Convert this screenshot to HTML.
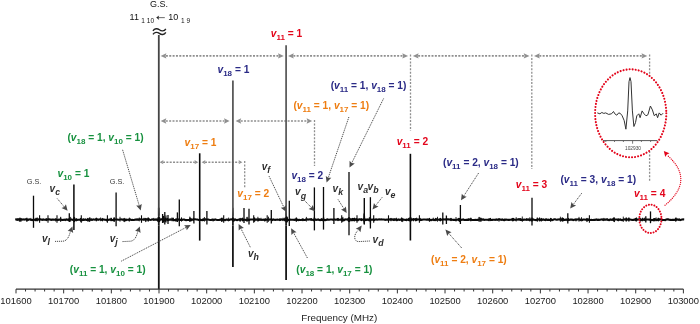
<!DOCTYPE html>
<html><head><meta charset="utf-8"><style>html,body{margin:0;padding:0;background:#fff;width:700px;height:324px;overflow:hidden}svg{display:block;will-change:transform}</style></head>
<body><svg width="700" height="324" viewBox="0 0 700 324"><line x1="165.9" y1="55.9" x2="278.5" y2="55.9" stroke="#8f8f8f" stroke-width="1.6" stroke-dasharray="2 1.35"/>
<polygon points="160.60,55.90 166.40,53.30 165.50,55.90 166.40,58.50" fill="#8f8f8f"/>
<polygon points="283.80,55.90 278.00,58.50 278.90,55.90 278.00,53.30" fill="#8f8f8f"/>
<line x1="293.3" y1="55.9" x2="402.8" y2="55.9" stroke="#8f8f8f" stroke-width="1.6" stroke-dasharray="2 1.35"/>
<polygon points="288.00,55.90 293.80,53.30 292.90,55.90 293.80,58.50" fill="#8f8f8f"/>
<polygon points="408.10,55.90 402.30,58.50 403.20,55.90 402.30,53.30" fill="#8f8f8f"/>
<line x1="418.1" y1="55.9" x2="524.2" y2="55.9" stroke="#8f8f8f" stroke-width="1.6" stroke-dasharray="2 1.35"/>
<polygon points="412.80,55.90 418.60,53.30 417.70,55.90 418.60,58.50" fill="#8f8f8f"/>
<polygon points="529.50,55.90 523.70,58.50 524.60,55.90 523.70,53.30" fill="#8f8f8f"/>
<line x1="539.3" y1="55.9" x2="642.0" y2="55.9" stroke="#8f8f8f" stroke-width="1.6" stroke-dasharray="2 1.35"/>
<polygon points="534.00,55.90 539.80,53.30 538.90,55.90 539.80,58.50" fill="#8f8f8f"/>
<polygon points="647.30,55.90 641.50,58.50 642.40,55.90 641.50,53.30" fill="#8f8f8f"/>
<line x1="410.5" y1="54.5" x2="410.5" y2="131" stroke="#8f8f8f" stroke-width="1.3" stroke-dasharray="2 1.45"/>
<line x1="531.8" y1="54.5" x2="531.8" y2="169" stroke="#8f8f8f" stroke-width="1.3" stroke-dasharray="2 1.45"/>
<line x1="649.6" y1="54.5" x2="649.6" y2="181" stroke="#8f8f8f" stroke-width="1.3" stroke-dasharray="2 1.45"/>
<line x1="165.79999999999998" y1="121" x2="224.5" y2="121" stroke="#8f8f8f" stroke-width="1.6" stroke-dasharray="2 1.35"/>
<polygon points="160.70,121.00 166.30,118.30 165.40,121.00 166.30,123.70" fill="#8f8f8f"/>
<polygon points="229.60,121.00 224.00,123.70 224.90,121.00 224.00,118.30" fill="#8f8f8f"/>
<line x1="240.7" y1="121" x2="307.09999999999997" y2="121" stroke="#8f8f8f" stroke-width="1.6" stroke-dasharray="2 1.35"/>
<polygon points="235.60,121.00 241.20,118.30 240.30,121.00 241.20,123.70" fill="#8f8f8f"/>
<polygon points="312.20,121.00 306.60,123.70 307.50,121.00 306.60,118.30" fill="#8f8f8f"/>
<line x1="314.5" y1="120" x2="314.5" y2="166" stroke="#8f8f8f" stroke-width="1.3" stroke-dasharray="2 1.45"/>
<line x1="163.0" y1="162.2" x2="194.9" y2="162.2" stroke="#8f8f8f" stroke-width="1.6" stroke-dasharray="2 1.35"/>
<polygon points="159.60,162.20 163.50,160.10 162.60,162.20 163.50,164.30" fill="#8f8f8f"/>
<polygon points="198.30,162.20 194.40,164.30 195.30,162.20 194.40,160.10" fill="#8f8f8f"/>
<line x1="205.0" y1="162.2" x2="239.0" y2="162.2" stroke="#8f8f8f" stroke-width="1.6" stroke-dasharray="2 1.35"/>
<polygon points="201.60,162.20 205.50,160.10 204.60,162.20 205.50,164.30" fill="#8f8f8f"/>
<polygon points="242.40,162.20 238.50,164.30 239.40,162.20 238.50,160.10" fill="#8f8f8f"/>
<line x1="244.7" y1="161" x2="244.7" y2="188" stroke="#8f8f8f" stroke-width="1.3" stroke-dasharray="2 1.45"/>
<polyline points="15.2,219.56 16.2,219.42 17.2,219.82 18.2,219.36 19.2,219.73 20.2,219.59 21.2,219.35 22.2,219.71 23.2,219.33 24.2,219.65 25.2,219.36 26.2,219.37 27.2,219.64 28.2,219.96 29.2,219.40 30.2,219.48 31.2,219.80 32.2,220.06 33.2,219.76 34.2,219.62 35.2,220.08 36.2,219.34 37.2,219.99 38.2,219.53 39.2,219.42 40.2,219.39 41.2,219.55 42.2,219.95 43.2,219.44 44.2,219.77 45.2,219.81 46.2,219.60 47.2,219.74 48.2,219.35 49.2,219.35 50.2,219.46 51.2,219.84 52.2,219.64 53.2,219.55 54.2,219.77 55.2,219.66 56.2,219.54 57.2,219.94 58.2,219.86 59.2,219.50 60.2,219.76 61.2,219.72 62.2,220.00 63.2,219.88 64.2,219.53 65.2,220.08 66.2,219.39 67.2,219.63 68.2,219.91 69.2,219.42 70.2,219.69 71.2,219.33 72.2,219.83 73.2,219.91 74.2,219.76 75.2,220.00 76.2,219.55 77.2,219.86 78.2,219.78 79.2,219.76 80.2,219.66 81.2,219.97 82.2,220.06 83.2,219.68 84.2,219.83 85.2,219.35 86.2,219.86 87.2,219.82 88.2,220.09 89.2,219.96 90.2,219.53 91.2,219.61 92.2,219.83 93.2,219.32 94.2,219.67 95.2,219.43 96.2,219.39 97.2,219.35 98.2,219.91 99.2,219.40 100.2,219.50 101.2,219.61 102.2,220.00 103.2,219.36 104.2,219.66 105.2,219.74 106.2,220.01 107.2,219.96 108.2,219.99 109.2,219.52 110.2,219.63 111.2,219.59 112.2,220.01 113.2,220.07 114.2,219.42 115.2,219.44 116.2,219.49 117.2,219.49 118.2,219.69 119.2,219.77 120.2,219.51 121.2,219.30 122.2,219.64 123.2,219.60 124.2,219.75 125.2,220.06 126.2,219.85 127.2,219.71 128.2,219.79 129.2,219.84 130.2,219.34 131.2,220.02 132.2,219.92 133.2,220.00 134.2,219.94 135.2,219.61 136.2,219.62 137.2,219.38 138.2,219.81 139.2,219.35 140.2,219.35 141.2,219.47 142.2,219.43 143.2,219.57 144.2,219.34 145.2,219.30 146.2,219.42 147.2,219.38 148.2,219.59 149.2,219.32 150.2,220.00 151.2,219.79 152.2,219.42 153.2,219.50 154.2,219.58 155.2,219.59 156.2,219.40 157.2,219.98 158.2,220.09 159.2,219.67 160.2,219.69 161.2,219.37 162.2,219.38 163.2,219.57 164.2,219.51 165.2,219.96 166.2,219.43 167.2,219.32 168.2,220.06 169.2,219.72 170.2,219.42 171.2,219.73 172.2,219.32 173.2,219.72 174.2,220.08 175.2,219.99 176.2,219.86 177.2,219.51 178.2,219.59 179.2,219.43 180.2,219.92 181.2,219.73 182.2,219.92 183.2,219.56 184.2,219.48 185.2,219.95 186.2,220.09 187.2,219.98 188.2,219.94 189.2,219.95 190.2,219.89 191.2,219.48 192.2,219.71 193.2,219.58 194.2,219.32 195.2,219.32 196.2,219.52 197.2,219.51 198.2,219.85 199.2,220.07 200.2,219.66 201.2,220.05 202.2,220.09 203.2,220.06 204.2,219.59 205.2,219.48 206.2,219.48 207.2,219.46 208.2,219.46 209.2,219.80 210.2,220.02 211.2,219.97 212.2,219.68 213.2,219.82 214.2,219.94 215.2,219.37 216.2,219.83 217.2,220.03 218.2,219.93 219.2,219.90 220.2,219.68 221.2,219.44 222.2,219.93 223.2,219.57 224.2,219.94 225.2,220.08 226.2,219.62 227.2,219.62 228.2,220.06 229.2,219.88 230.2,219.44 231.2,219.40 232.2,219.42 233.2,220.02 234.2,219.95 235.2,219.42 236.2,219.96 237.2,220.08 238.2,219.83 239.2,219.58 240.2,219.74 241.2,219.40 242.2,219.31 243.2,220.08 244.2,219.82 245.2,219.72 246.2,220.05 247.2,219.65 248.2,220.00 249.2,219.96 250.2,219.47 251.2,219.50 252.2,219.53 253.2,219.49 254.2,219.77 255.2,219.51 256.2,219.64 257.2,219.40 258.2,220.03 259.2,219.58 260.2,219.67 261.2,219.77 262.2,220.02 263.2,219.64 264.2,220.03 265.2,219.70 266.2,219.73 267.2,219.72 268.2,219.31 269.2,219.65 270.2,219.45 271.2,219.30 272.2,219.94 273.2,219.44 274.2,219.68 275.2,219.88 276.2,219.75 277.2,219.56 278.2,219.71 279.2,219.74 280.2,219.93 281.2,219.38 282.2,219.75 283.2,219.50 284.2,219.52 285.2,219.92 286.2,219.71 287.2,219.75 288.2,219.91 289.2,220.03 290.2,219.65 291.2,219.79 292.2,219.70 293.2,219.71 294.2,219.85 295.2,219.66 296.2,219.73 297.2,219.68 298.2,220.05 299.2,219.86 300.2,220.00 301.2,220.05 302.2,219.51 303.2,219.75 304.2,220.05 305.2,219.97 306.2,219.41 307.2,219.40 308.2,219.65 309.2,219.36 310.2,219.49 311.2,219.36 312.2,219.84 313.2,219.93 314.2,220.02 315.2,219.42 316.2,219.87 317.2,219.83 318.2,219.41 319.2,220.01 320.2,220.07 321.2,219.48 322.2,220.06 323.2,219.62 324.2,219.69 325.2,220.09 326.2,219.97 327.2,219.43 328.2,219.65 329.2,219.71 330.2,219.57 331.2,219.46 332.2,219.55 333.2,219.88 334.2,219.32 335.2,219.74 336.2,219.65 337.2,219.31 338.2,219.57 339.2,219.80 340.2,219.71 341.2,219.35 342.2,220.09 343.2,219.93 344.2,220.08 345.2,219.38 346.2,219.51 347.2,219.33 348.2,219.92 349.2,219.52 350.2,219.40 351.2,219.64 352.2,220.03 353.2,219.96 354.2,219.51 355.2,219.42 356.2,220.04 357.2,219.76 358.2,219.86 359.2,219.37 360.2,219.35 361.2,219.85 362.2,219.64 363.2,219.36 364.2,220.05 365.2,219.81 366.2,219.94 367.2,219.37 368.2,219.98 369.2,219.35 370.2,219.99 371.2,219.66 372.2,219.57 373.2,219.74 374.2,220.04 375.2,219.51 376.2,219.40 377.2,219.72 378.2,219.49 379.2,219.39 380.2,219.43 381.2,219.34 382.2,219.46 383.2,219.55 384.2,219.54 385.2,219.91 386.2,219.53 387.2,219.70 388.2,219.44 389.2,219.58 390.2,219.31 391.2,219.50 392.2,219.31 393.2,219.89 394.2,219.74 395.2,219.45 396.2,219.68 397.2,220.05 398.2,219.39 399.2,219.96 400.2,219.65 401.2,219.70 402.2,219.97 403.2,219.61 404.2,219.71 405.2,219.85 406.2,220.09 407.2,219.57 408.2,219.97 409.2,219.87 410.2,219.81 411.2,219.62 412.2,219.58 413.2,219.34 414.2,219.40 415.2,219.36 416.2,219.89 417.2,219.50 418.2,219.43 419.2,219.37 420.2,219.97 421.2,220.00 422.2,219.84 423.2,219.53 424.2,219.49 425.2,219.53 426.2,219.67 427.2,219.43 428.2,219.66 429.2,219.51 430.2,220.07 431.2,220.08 432.2,219.74 433.2,219.50 434.2,220.07 435.2,219.55 436.2,219.59 437.2,219.30 438.2,219.61 439.2,219.68 440.2,219.70 441.2,219.46 442.2,219.70 443.2,219.30 444.2,219.51 445.2,219.37 446.2,219.62 447.2,219.33 448.2,219.32 449.2,219.54 450.2,219.49 451.2,219.77 452.2,219.72 453.2,219.90 454.2,219.83 455.2,219.87 456.2,220.00 457.2,219.61 458.2,219.56 459.2,220.09 460.2,219.42 461.2,219.88 462.2,219.81 463.2,219.34 464.2,219.97 465.2,220.01 466.2,219.80 467.2,219.89 468.2,219.95 469.2,219.41 470.2,219.72 471.2,219.70 472.2,219.97 473.2,219.94 474.2,219.96 475.2,219.77 476.2,220.01 477.2,219.85 478.2,219.85 479.2,219.48 480.2,219.32 481.2,219.41 482.2,219.59 483.2,219.38 484.2,219.97 485.2,219.75 486.2,219.80 487.2,219.80 488.2,219.84 489.2,219.69 490.2,219.30 491.2,219.94 492.2,219.90 493.2,219.70 494.2,219.73 495.2,219.83 496.2,219.35 497.2,219.89 498.2,219.50 499.2,219.36 500.2,219.51 501.2,219.88 502.2,219.46 503.2,219.89 504.2,220.08 505.2,219.70 506.2,219.61 507.2,219.68 508.2,219.85 509.2,219.91 510.2,219.79 511.2,219.81 512.2,219.36 513.2,219.42 514.2,219.50 515.2,219.89 516.2,219.54 517.2,219.75 518.2,219.31 519.2,219.35 520.2,219.52 521.2,219.84 522.2,219.85 523.2,219.84 524.2,219.53 525.2,219.71 526.2,219.67 527.2,219.67 528.2,219.39 529.2,220.01 530.2,219.46 531.2,220.08 532.2,220.05 533.2,219.31 534.2,219.67 535.2,219.96 536.2,220.07 537.2,219.66 538.2,219.51 539.2,219.47 540.2,220.06 541.2,219.47 542.2,219.77 543.2,219.41 544.2,219.72 545.2,220.06 546.2,219.41 547.2,219.96 548.2,219.71 549.2,220.01 550.2,219.86 551.2,219.49 552.2,220.02 553.2,219.69 554.2,219.32 555.2,219.30 556.2,219.69 557.2,219.66 558.2,219.54 559.2,219.41 560.2,219.58 561.2,219.55 562.2,219.97 563.2,219.30 564.2,219.90 565.2,219.97 566.2,219.40 567.2,220.04 568.2,219.87 569.2,220.02 570.2,219.53 571.2,219.60 572.2,219.61 573.2,220.10 574.2,219.77 575.2,219.59 576.2,219.64 577.2,219.52 578.2,219.34 579.2,219.38 580.2,219.97 581.2,219.53 582.2,220.05 583.2,219.50 584.2,219.51 585.2,219.71 586.2,219.45 587.2,219.60 588.2,220.06 589.2,220.01 590.2,219.95 591.2,219.80 592.2,220.03 593.2,220.05 594.2,219.74 595.2,219.88 596.2,219.34 597.2,219.89 598.2,219.66 599.2,219.90 600.2,219.82 601.2,219.53 602.2,219.34 603.2,220.04 604.2,219.40 605.2,219.68 606.2,219.57 607.2,219.54 608.2,219.89 609.2,220.08 610.2,219.51 611.2,219.82 612.2,219.54 613.2,219.75 614.2,219.62 615.2,219.43 616.2,219.43 617.2,219.47 618.2,220.02 619.2,219.70 620.2,219.48 621.2,220.03 622.2,220.10 623.2,219.66 624.2,219.41 625.2,219.45 626.2,219.37 627.2,219.57 628.2,219.37 629.2,219.49 630.2,219.51 631.2,219.76 632.2,220.01 633.2,219.90 634.2,219.63 635.2,219.63 636.2,219.72 637.2,219.60 638.2,219.57 639.2,219.35 640.2,219.52 641.2,220.07 642.2,219.40 643.2,219.70 644.2,219.80 645.2,219.99 646.2,219.47 647.2,219.52 648.2,219.50 649.2,219.62 650.2,219.66 651.2,220.06 652.2,219.98 653.2,220.00 654.2,219.32 655.2,219.33 656.2,219.87 657.2,220.02 658.2,219.68 659.2,219.77 660.2,219.30 661.2,219.61 662.2,220.04 663.2,219.96 664.2,219.98 665.2,220.08 666.2,219.50 667.2,219.39 668.2,219.42 669.2,219.72 670.2,219.85 671.2,220.05 672.2,219.88 673.2,219.82 674.2,219.91 675.2,219.67 676.2,219.74 677.2,219.33 678.2,219.93 679.2,219.49 680.2,220.04 681.2,219.82 682.2,219.54 683.2,219.40 684.2,219.50" fill="none" stroke="#0a0a0a" stroke-width="2.1"/>
<ellipse cx="440.1" cy="219.82" rx="0.64" ry="1.46" fill="#0a0a0a"/>
<ellipse cx="365.8" cy="219.75" rx="0.76" ry="1.60" fill="#0a0a0a"/>
<ellipse cx="416.7" cy="219.41" rx="0.72" ry="1.81" fill="#0a0a0a"/>
<ellipse cx="654.7" cy="219.79" rx="0.95" ry="1.83" fill="#0a0a0a"/>
<ellipse cx="173.1" cy="219.55" rx="0.98" ry="2.03" fill="#0a0a0a"/>
<ellipse cx="221.4" cy="219.41" rx="0.80" ry="2.01" fill="#0a0a0a"/>
<ellipse cx="296.3" cy="219.55" rx="0.87" ry="2.23" fill="#0a0a0a"/>
<ellipse cx="167.8" cy="219.42" rx="0.74" ry="1.78" fill="#0a0a0a"/>
<ellipse cx="470.9" cy="219.52" rx="0.92" ry="2.07" fill="#0a0a0a"/>
<ellipse cx="352.7" cy="219.52" rx="0.99" ry="1.68" fill="#0a0a0a"/>
<ellipse cx="562.3" cy="219.54" rx="0.69" ry="2.08" fill="#0a0a0a"/>
<ellipse cx="213.1" cy="219.97" rx="0.80" ry="1.57" fill="#0a0a0a"/>
<ellipse cx="165.5" cy="219.65" rx="0.87" ry="2.25" fill="#0a0a0a"/>
<ellipse cx="114.3" cy="219.64" rx="0.69" ry="2.28" fill="#0a0a0a"/>
<ellipse cx="111.4" cy="219.43" rx="0.62" ry="1.75" fill="#0a0a0a"/>
<ellipse cx="614.3" cy="219.93" rx="0.89" ry="2.30" fill="#0a0a0a"/>
<ellipse cx="636.5" cy="219.60" rx="0.67" ry="2.24" fill="#0a0a0a"/>
<ellipse cx="513.3" cy="219.42" rx="0.87" ry="1.74" fill="#0a0a0a"/>
<ellipse cx="265.6" cy="219.60" rx="0.67" ry="1.40" fill="#0a0a0a"/>
<ellipse cx="203.1" cy="219.61" rx="0.98" ry="1.51" fill="#0a0a0a"/>
<ellipse cx="658.2" cy="219.52" rx="0.74" ry="2.14" fill="#0a0a0a"/>
<ellipse cx="563.6" cy="219.66" rx="0.62" ry="1.83" fill="#0a0a0a"/>
<ellipse cx="264.9" cy="219.95" rx="0.68" ry="1.73" fill="#0a0a0a"/>
<ellipse cx="613.5" cy="219.42" rx="0.76" ry="2.13" fill="#0a0a0a"/>
<ellipse cx="526.8" cy="219.42" rx="0.61" ry="1.46" fill="#0a0a0a"/>
<ellipse cx="628.9" cy="219.55" rx="0.90" ry="2.21" fill="#0a0a0a"/>
<ellipse cx="242.5" cy="219.56" rx="0.98" ry="1.96" fill="#0a0a0a"/>
<ellipse cx="191.3" cy="219.83" rx="0.73" ry="1.65" fill="#0a0a0a"/>
<ellipse cx="19.5" cy="219.85" rx="0.97" ry="1.97" fill="#0a0a0a"/>
<ellipse cx="644.3" cy="219.41" rx="0.69" ry="1.83" fill="#0a0a0a"/>
<ellipse cx="653.3" cy="219.97" rx="0.75" ry="1.63" fill="#0a0a0a"/>
<ellipse cx="302.9" cy="219.70" rx="0.97" ry="1.56" fill="#0a0a0a"/>
<ellipse cx="550.7" cy="219.84" rx="0.93" ry="2.10" fill="#0a0a0a"/>
<ellipse cx="420.8" cy="219.60" rx="0.73" ry="1.73" fill="#0a0a0a"/>
<ellipse cx="537.2" cy="219.45" rx="0.68" ry="2.08" fill="#0a0a0a"/>
<ellipse cx="181.5" cy="219.44" rx="0.61" ry="1.90" fill="#0a0a0a"/>
<ellipse cx="233.6" cy="219.99" rx="0.95" ry="2.29" fill="#0a0a0a"/>
<ellipse cx="193.2" cy="219.45" rx="0.64" ry="1.85" fill="#0a0a0a"/>
<ellipse cx="489.0" cy="219.67" rx="0.69" ry="1.78" fill="#0a0a0a"/>
<ellipse cx="429.5" cy="219.80" rx="0.90" ry="2.16" fill="#0a0a0a"/>
<ellipse cx="458.8" cy="219.47" rx="0.94" ry="1.66" fill="#0a0a0a"/>
<ellipse cx="394.0" cy="219.62" rx="0.90" ry="1.58" fill="#0a0a0a"/>
<ellipse cx="181.5" cy="219.55" rx="0.66" ry="2.20" fill="#0a0a0a"/>
<ellipse cx="401.6" cy="219.60" rx="0.76" ry="2.29" fill="#0a0a0a"/>
<ellipse cx="354.4" cy="219.54" rx="0.92" ry="1.99" fill="#0a0a0a"/>
<ellipse cx="676.0" cy="219.46" rx="0.79" ry="2.14" fill="#0a0a0a"/>
<ellipse cx="576.0" cy="219.95" rx="0.62" ry="1.66" fill="#0a0a0a"/>
<ellipse cx="96.3" cy="219.51" rx="0.99" ry="1.92" fill="#0a0a0a"/>
<ellipse cx="635.6" cy="219.62" rx="0.95" ry="1.80" fill="#0a0a0a"/>
<ellipse cx="189.9" cy="219.87" rx="0.98" ry="1.50" fill="#0a0a0a"/>
<ellipse cx="413.4" cy="219.77" rx="0.69" ry="1.73" fill="#0a0a0a"/>
<ellipse cx="111.0" cy="219.52" rx="0.70" ry="1.94" fill="#0a0a0a"/>
<ellipse cx="450.3" cy="219.52" rx="0.60" ry="1.69" fill="#0a0a0a"/>
<ellipse cx="468.1" cy="219.51" rx="0.72" ry="1.58" fill="#0a0a0a"/>
<ellipse cx="545.9" cy="219.73" rx="0.63" ry="1.49" fill="#0a0a0a"/>
<ellipse cx="279.9" cy="219.73" rx="0.86" ry="1.48" fill="#0a0a0a"/>
<ellipse cx="125.9" cy="219.82" rx="0.76" ry="1.65" fill="#0a0a0a"/>
<ellipse cx="221.6" cy="219.97" rx="0.72" ry="1.91" fill="#0a0a0a"/>
<ellipse cx="254.5" cy="219.65" rx="0.95" ry="2.30" fill="#0a0a0a"/>
<ellipse cx="258.9" cy="219.52" rx="0.89" ry="1.58" fill="#0a0a0a"/>
<ellipse cx="20.9" cy="219.94" rx="0.77" ry="2.14" fill="#0a0a0a"/>
<ellipse cx="287.1" cy="219.93" rx="0.78" ry="1.55" fill="#0a0a0a"/>
<ellipse cx="26.9" cy="219.73" rx="0.86" ry="2.22" fill="#0a0a0a"/>
<ellipse cx="76.2" cy="219.77" rx="0.75" ry="1.85" fill="#0a0a0a"/>
<ellipse cx="114.0" cy="219.57" rx="0.81" ry="2.23" fill="#0a0a0a"/>
<ellipse cx="89.3" cy="219.69" rx="0.92" ry="2.27" fill="#0a0a0a"/>
<ellipse cx="148.2" cy="219.48" rx="0.98" ry="2.28" fill="#0a0a0a"/>
<ellipse cx="338.0" cy="219.43" rx="0.97" ry="1.75" fill="#0a0a0a"/>
<ellipse cx="618.3" cy="219.77" rx="0.93" ry="1.54" fill="#0a0a0a"/>
<ellipse cx="539.6" cy="219.53" rx="0.76" ry="2.16" fill="#0a0a0a"/>
<ellipse cx="568.4" cy="219.51" rx="0.69" ry="1.76" fill="#0a0a0a"/>
<ellipse cx="361.4" cy="219.63" rx="0.65" ry="1.62" fill="#0a0a0a"/>
<ellipse cx="499.0" cy="219.94" rx="0.62" ry="1.91" fill="#0a0a0a"/>
<ellipse cx="520.7" cy="219.42" rx="0.94" ry="1.51" fill="#0a0a0a"/>
<ellipse cx="415.7" cy="219.73" rx="0.85" ry="1.68" fill="#0a0a0a"/>
<ellipse cx="296.3" cy="219.75" rx="0.77" ry="1.99" fill="#0a0a0a"/>
<ellipse cx="314.1" cy="219.66" rx="0.61" ry="1.96" fill="#0a0a0a"/>
<ellipse cx="342.5" cy="219.54" rx="0.91" ry="2.10" fill="#0a0a0a"/>
<ellipse cx="321.8" cy="219.51" rx="0.79" ry="1.50" fill="#0a0a0a"/>
<ellipse cx="102.4" cy="219.66" rx="0.64" ry="1.80" fill="#0a0a0a"/>
<ellipse cx="356.3" cy="219.42" rx="0.85" ry="1.47" fill="#0a0a0a"/>
<ellipse cx="504.8" cy="219.87" rx="0.80" ry="1.45" fill="#0a0a0a"/>
<ellipse cx="352.1" cy="219.63" rx="0.98" ry="1.52" fill="#0a0a0a"/>
<ellipse cx="587.0" cy="220.00" rx="0.89" ry="2.13" fill="#0a0a0a"/>
<ellipse cx="145.8" cy="219.99" rx="0.80" ry="2.26" fill="#0a0a0a"/>
<ellipse cx="626.2" cy="219.50" rx="0.92" ry="2.24" fill="#0a0a0a"/>
<ellipse cx="60.6" cy="219.61" rx="0.90" ry="1.54" fill="#0a0a0a"/>
<ellipse cx="613.2" cy="219.56" rx="0.93" ry="1.53" fill="#0a0a0a"/>
<ellipse cx="351.0" cy="219.95" rx="0.68" ry="1.64" fill="#0a0a0a"/>
<ellipse cx="353.5" cy="219.59" rx="0.61" ry="1.56" fill="#0a0a0a"/>
<ellipse cx="124.2" cy="219.96" rx="0.87" ry="2.21" fill="#0a0a0a"/>
<ellipse cx="129.2" cy="219.87" rx="0.65" ry="1.88" fill="#0a0a0a"/>
<ellipse cx="440.2" cy="219.62" rx="0.95" ry="1.90" fill="#0a0a0a"/>
<ellipse cx="402.7" cy="219.93" rx="0.64" ry="2.29" fill="#0a0a0a"/>
<ellipse cx="435.8" cy="219.64" rx="0.92" ry="1.64" fill="#0a0a0a"/>
<ellipse cx="675.7" cy="219.75" rx="0.74" ry="2.09" fill="#0a0a0a"/>
<ellipse cx="311.1" cy="219.51" rx="0.90" ry="1.44" fill="#0a0a0a"/>
<ellipse cx="562.2" cy="219.55" rx="0.86" ry="2.29" fill="#0a0a0a"/>
<ellipse cx="406.6" cy="219.80" rx="0.73" ry="1.40" fill="#0a0a0a"/>
<ellipse cx="39.5" cy="219.49" rx="0.85" ry="1.79" fill="#0a0a0a"/>
<ellipse cx="357.9" cy="219.94" rx="0.65" ry="1.60" fill="#0a0a0a"/>
<ellipse cx="451.3" cy="219.41" rx="0.60" ry="1.72" fill="#0a0a0a"/>
<ellipse cx="87.7" cy="219.61" rx="0.69" ry="1.93" fill="#0a0a0a"/>
<ellipse cx="408.7" cy="219.52" rx="0.85" ry="1.83" fill="#0a0a0a"/>
<ellipse cx="106.6" cy="219.96" rx="0.70" ry="1.53" fill="#0a0a0a"/>
<ellipse cx="80.7" cy="219.78" rx="0.95" ry="2.10" fill="#0a0a0a"/>
<ellipse cx="284.3" cy="219.56" rx="0.60" ry="1.98" fill="#0a0a0a"/>
<ellipse cx="391.0" cy="219.61" rx="0.86" ry="1.80" fill="#0a0a0a"/>
<ellipse cx="640.2" cy="219.84" rx="0.70" ry="2.21" fill="#0a0a0a"/>
<ellipse cx="46.3" cy="219.72" rx="0.76" ry="1.61" fill="#0a0a0a"/>
<ellipse cx="55.8" cy="219.87" rx="0.60" ry="1.90" fill="#0a0a0a"/>
<ellipse cx="642.7" cy="219.49" rx="0.68" ry="1.95" fill="#0a0a0a"/>
<ellipse cx="354.1" cy="219.78" rx="0.93" ry="1.56" fill="#0a0a0a"/>
<ellipse cx="222.7" cy="219.58" rx="0.62" ry="2.20" fill="#0a0a0a"/>
<ellipse cx="537.7" cy="219.83" rx="0.60" ry="2.16" fill="#0a0a0a"/>
<ellipse cx="512.5" cy="219.68" rx="0.90" ry="1.81" fill="#0a0a0a"/>
<ellipse cx="167.3" cy="219.46" rx="0.69" ry="1.43" fill="#0a0a0a"/>
<ellipse cx="240.1" cy="219.85" rx="0.88" ry="2.16" fill="#0a0a0a"/>
<ellipse cx="490.3" cy="219.56" rx="0.82" ry="1.79" fill="#0a0a0a"/>
<ellipse cx="541.3" cy="219.71" rx="0.71" ry="1.98" fill="#0a0a0a"/>
<ellipse cx="658.8" cy="219.53" rx="0.95" ry="1.41" fill="#0a0a0a"/>
<ellipse cx="190.1" cy="219.54" rx="0.90" ry="2.25" fill="#0a0a0a"/>
<ellipse cx="513.2" cy="219.60" rx="0.95" ry="1.70" fill="#0a0a0a"/>
<ellipse cx="176.0" cy="219.94" rx="0.85" ry="2.02" fill="#0a0a0a"/>
<ellipse cx="459.4" cy="219.99" rx="0.79" ry="2.16" fill="#0a0a0a"/>
<ellipse cx="480.9" cy="219.91" rx="0.77" ry="2.05" fill="#0a0a0a"/>
<ellipse cx="396.3" cy="219.58" rx="0.68" ry="1.96" fill="#0a0a0a"/>
<ellipse cx="68.7" cy="219.95" rx="0.66" ry="1.42" fill="#0a0a0a"/>
<ellipse cx="87.9" cy="219.96" rx="0.74" ry="1.53" fill="#0a0a0a"/>
<ellipse cx="36.1" cy="219.42" rx="0.88" ry="1.97" fill="#0a0a0a"/>
<line x1="479.1" y1="217.0" x2="479.1" y2="221.6" stroke="#111" stroke-width="0.9"/>
<line x1="60.6" y1="217.3" x2="60.6" y2="221.4" stroke="#111" stroke-width="0.9"/>
<line x1="257.9" y1="216.8" x2="257.9" y2="221.7" stroke="#111" stroke-width="0.9"/>
<line x1="560.4" y1="216.7" x2="560.4" y2="221.8" stroke="#111" stroke-width="0.9"/>
<line x1="60.7" y1="216.8" x2="60.7" y2="221.8" stroke="#111" stroke-width="0.9"/>
<line x1="623.3" y1="216.6" x2="623.3" y2="221.9" stroke="#111" stroke-width="0.9"/>
<line x1="88.0" y1="218.0" x2="88.0" y2="220.9" stroke="#111" stroke-width="0.9"/>
<line x1="91.2" y1="218.3" x2="91.2" y2="220.7" stroke="#111" stroke-width="0.9"/>
<line x1="579.0" y1="216.9" x2="579.0" y2="221.7" stroke="#111" stroke-width="0.9"/>
<line x1="437.5" y1="216.8" x2="437.5" y2="221.7" stroke="#111" stroke-width="0.9"/>
<line x1="435.7" y1="217.9" x2="435.7" y2="221.0" stroke="#111" stroke-width="0.9"/>
<line x1="83.2" y1="218.2" x2="83.2" y2="220.7" stroke="#111" stroke-width="0.9"/>
<line x1="519.1" y1="218.0" x2="519.1" y2="220.9" stroke="#111" stroke-width="0.9"/>
<line x1="228.6" y1="217.6" x2="228.6" y2="221.2" stroke="#111" stroke-width="0.9"/>
<line x1="30.9" y1="217.9" x2="30.9" y2="221.0" stroke="#111" stroke-width="0.9"/>
<line x1="204.4" y1="217.0" x2="204.4" y2="221.6" stroke="#111" stroke-width="0.9"/>
<line x1="261.0" y1="217.8" x2="261.0" y2="221.0" stroke="#111" stroke-width="0.9"/>
<line x1="656.1" y1="217.4" x2="656.1" y2="221.3" stroke="#111" stroke-width="0.9"/>
<line x1="581.5" y1="217.2" x2="581.5" y2="221.4" stroke="#111" stroke-width="0.9"/>
<line x1="37.5" y1="217.6" x2="37.5" y2="221.2" stroke="#111" stroke-width="0.9"/>
<line x1="306.4" y1="216.9" x2="306.4" y2="221.6" stroke="#111" stroke-width="0.9"/>
<line x1="246.9" y1="217.1" x2="246.9" y2="221.5" stroke="#111" stroke-width="0.9"/>
<line x1="373.6" y1="218.0" x2="373.6" y2="220.9" stroke="#111" stroke-width="0.9"/>
<line x1="588.7" y1="218.2" x2="588.7" y2="220.7" stroke="#111" stroke-width="0.9"/>
<line x1="560.5" y1="218.1" x2="560.5" y2="220.8" stroke="#111" stroke-width="0.9"/>
<line x1="17.9" y1="218.0" x2="17.9" y2="220.9" stroke="#111" stroke-width="0.9"/>
<line x1="522.3" y1="216.5" x2="522.3" y2="221.9" stroke="#111" stroke-width="0.9"/>
<line x1="19.9" y1="217.5" x2="19.9" y2="221.3" stroke="#111" stroke-width="0.9"/>
<line x1="342.9" y1="216.9" x2="342.9" y2="221.7" stroke="#111" stroke-width="0.9"/>
<line x1="139.3" y1="217.5" x2="139.3" y2="221.3" stroke="#111" stroke-width="0.9"/>
<line x1="247.2" y1="216.8" x2="247.2" y2="221.7" stroke="#111" stroke-width="0.9"/>
<line x1="189.8" y1="216.6" x2="189.8" y2="221.9" stroke="#111" stroke-width="0.9"/>
<line x1="205.1" y1="218.0" x2="205.1" y2="220.9" stroke="#111" stroke-width="0.9"/>
<line x1="480.8" y1="217.5" x2="480.8" y2="221.3" stroke="#111" stroke-width="0.9"/>
<line x1="89.9" y1="217.2" x2="89.9" y2="221.5" stroke="#111" stroke-width="0.9"/>
<line x1="70.6" y1="216.9" x2="70.6" y2="221.7" stroke="#111" stroke-width="0.9"/>
<line x1="479.2" y1="216.9" x2="479.2" y2="221.7" stroke="#111" stroke-width="0.9"/>
<line x1="433.3" y1="217.7" x2="433.3" y2="221.1" stroke="#111" stroke-width="0.9"/>
<line x1="283.0" y1="217.7" x2="283.0" y2="221.1" stroke="#111" stroke-width="0.9"/>
<line x1="607.3" y1="218.2" x2="607.3" y2="220.7" stroke="#111" stroke-width="0.9"/>
<line x1="606.0" y1="218.4" x2="606.0" y2="220.6" stroke="#111" stroke-width="0.9"/>
<line x1="153.7" y1="217.9" x2="153.7" y2="221.0" stroke="#111" stroke-width="0.9"/>
<line x1="614.5" y1="217.4" x2="614.5" y2="221.3" stroke="#111" stroke-width="0.9"/>
<line x1="268.5" y1="216.7" x2="268.5" y2="221.8" stroke="#111" stroke-width="0.9"/>
<line x1="171.9" y1="217.5" x2="171.9" y2="221.2" stroke="#111" stroke-width="0.9"/>
<line x1="369.4" y1="217.0" x2="369.4" y2="221.6" stroke="#111" stroke-width="0.9"/>
<line x1="516.2" y1="217.2" x2="516.2" y2="221.5" stroke="#111" stroke-width="0.9"/>
<line x1="248.0" y1="217.8" x2="248.0" y2="221.0" stroke="#111" stroke-width="0.9"/>
<line x1="120.0" y1="216.8" x2="120.0" y2="221.7" stroke="#111" stroke-width="0.9"/>
<line x1="456.0" y1="217.0" x2="456.0" y2="221.6" stroke="#111" stroke-width="0.9"/>
<line x1="129.4" y1="217.6" x2="129.4" y2="221.2" stroke="#111" stroke-width="0.9"/>
<line x1="529.8" y1="217.3" x2="529.8" y2="221.4" stroke="#111" stroke-width="0.9"/>
<line x1="100.6" y1="217.5" x2="100.6" y2="221.2" stroke="#111" stroke-width="0.9"/>
<line x1="603.8" y1="217.9" x2="603.8" y2="220.9" stroke="#111" stroke-width="0.9"/>
<line x1="144.0" y1="217.8" x2="144.0" y2="221.0" stroke="#111" stroke-width="0.9"/>
<line x1="158.8" y1="34.5" x2="158.8" y2="215.7" stroke="#444" stroke-width="1.8"/>
<linearGradient id="g158" x1="0" y1="207.7" x2="0" y2="225.7" gradientUnits="userSpaceOnUse"><stop offset="0" stop-color="#444"/><stop offset="1" stop-color="#141414"/></linearGradient>
<rect x="157.9" y="207.7" width="1.8" height="18" fill="url(#g158)"/>
<line x1="158.8" y1="225.7" x2="158.8" y2="289" stroke="#141414" stroke-width="1.8"/>
<line x1="286.1" y1="45.3" x2="286.1" y2="215.7" stroke="#5e5e5e" stroke-width="1.8"/>
<linearGradient id="g286" x1="0" y1="207.7" x2="0" y2="225.7" gradientUnits="userSpaceOnUse"><stop offset="0" stop-color="#5e5e5e"/><stop offset="1" stop-color="#181818"/></linearGradient>
<rect x="285.20000000000005" y="207.7" width="1.8" height="18" fill="url(#g286)"/>
<line x1="286.1" y1="225.7" x2="286.1" y2="280" stroke="#181818" stroke-width="1.8"/>
<line x1="232.9" y1="80.5" x2="232.9" y2="215.7" stroke="#5a5a5a" stroke-width="1.8"/>
<linearGradient id="g232" x1="0" y1="207.7" x2="0" y2="225.7" gradientUnits="userSpaceOnUse"><stop offset="0" stop-color="#5a5a5a"/><stop offset="1" stop-color="#181818"/></linearGradient>
<rect x="232.0" y="207.7" width="1.8" height="18" fill="url(#g232)"/>
<line x1="232.9" y1="225.7" x2="232.9" y2="267" stroke="#181818" stroke-width="1.8"/>
<line x1="199.7" y1="153.3" x2="199.7" y2="240.6" stroke="#0a0a0a" stroke-width="1.6"/>
<line x1="410.4" y1="153.8" x2="410.4" y2="240.5" stroke="#0a0a0a" stroke-width="1.6"/>
<line x1="73.9" y1="184.6" x2="73.9" y2="230" stroke="#0a0a0a" stroke-width="1.5"/>
<line x1="33.5" y1="195.7" x2="33.5" y2="227.8" stroke="#0a0a0a" stroke-width="1.3"/>
<line x1="116.1" y1="192.6" x2="116.1" y2="226.3" stroke="#0a0a0a" stroke-width="1.3"/>
<line x1="179.3" y1="199.4" x2="179.3" y2="226.3" stroke="#0a0a0a" stroke-width="1.3"/>
<line x1="289.3" y1="200.7" x2="289.3" y2="226" stroke="#0a0a0a" stroke-width="1.3"/>
<line x1="314.4" y1="187.4" x2="314.4" y2="230.4" stroke="#0a0a0a" stroke-width="1.3"/>
<line x1="323.5" y1="187" x2="323.5" y2="229.6" stroke="#0a0a0a" stroke-width="1.3"/>
<line x1="349.0" y1="172" x2="349.0" y2="235.2" stroke="#0a0a0a" stroke-width="1.3"/>
<line x1="364.3" y1="198" x2="364.3" y2="224.4" stroke="#0a0a0a" stroke-width="1.4"/>
<line x1="370.4" y1="197.2" x2="370.4" y2="228.5" stroke="#0a0a0a" stroke-width="1.3"/>
<line x1="460.4" y1="205" x2="460.4" y2="224" stroke="#0a0a0a" stroke-width="1.3"/>
<line x1="532.0" y1="197.8" x2="532.0" y2="225.6" stroke="#0a0a0a" stroke-width="1.3"/>
<line x1="333.9" y1="208" x2="333.9" y2="224" stroke="#0a0a0a" stroke-width="1.3"/>
<line x1="244.0" y1="208" x2="244.0" y2="223" stroke="#0a0a0a" stroke-width="1.3"/>
<line x1="249.0" y1="208.7" x2="249.0" y2="224.4" stroke="#0a0a0a" stroke-width="1.3"/>
<line x1="271.3" y1="210" x2="271.3" y2="223.5" stroke="#0a0a0a" stroke-width="1.3"/>
<line x1="193.9" y1="211" x2="193.9" y2="223.5" stroke="#0a0a0a" stroke-width="1.3"/>
<line x1="206.9" y1="211" x2="206.9" y2="224.4" stroke="#0a0a0a" stroke-width="1.3"/>
<line x1="164.8" y1="211.9" x2="164.8" y2="224.4" stroke="#0a0a0a" stroke-width="1.3"/>
<line x1="162.6" y1="214" x2="162.6" y2="223" stroke="#0a0a0a" stroke-width="1.3"/>
<line x1="168.0" y1="215" x2="168.0" y2="224" stroke="#0a0a0a" stroke-width="1.3"/>
<line x1="177.4" y1="212.4" x2="177.4" y2="222" stroke="#0a0a0a" stroke-width="1.3"/>
<line x1="567.8" y1="213.3" x2="567.8" y2="223.5" stroke="#0a0a0a" stroke-width="1.3"/>
<line x1="650.5" y1="211.4" x2="650.5" y2="223.2" stroke="#0a0a0a" stroke-width="1.3"/>
<line x1="645.8" y1="216.2" x2="645.8" y2="222.5" stroke="#0a0a0a" stroke-width="1.3"/>
<line x1="69.3" y1="213.3" x2="69.3" y2="222" stroke="#0a0a0a" stroke-width="1.3"/>
<line x1="442.8" y1="212.5" x2="442.8" y2="224.5" stroke="#0a0a0a" stroke-width="1.3"/>
<line x1="446.4" y1="215.5" x2="446.4" y2="224" stroke="#0a0a0a" stroke-width="1.3"/>
<ellipse cx="349" cy="219.55" rx="1.50" ry="2.60" fill="#0a0a0a"/>
<ellipse cx="364.2" cy="218.5" rx="0.96" ry="6.00" fill="#0a0a0a"/>
<ellipse cx="370.5" cy="220.5" rx="0.66" ry="6.00" fill="#0a0a0a"/>
<ellipse cx="158.8" cy="219.5" rx="1.80" ry="2.80" fill="#0a0a0a"/>
<ellipse cx="286.6" cy="219.5" rx="1.50" ry="3.20" fill="#0a0a0a"/>
<ellipse cx="232.9" cy="219.55" rx="1.05" ry="2.20" fill="#0a0a0a"/>
<ellipse cx="410.4" cy="219.5" rx="1.50" ry="2.40" fill="#0a0a0a"/>
<ellipse cx="314.4" cy="219.5" rx="0.78" ry="3.20" fill="#0a0a0a"/>
<ellipse cx="323.5" cy="219.5" rx="0.78" ry="3.20" fill="#0a0a0a"/>
<ellipse cx="74.2" cy="219.5" rx="1.20" ry="2.80" fill="#0a0a0a"/>
<ellipse cx="532" cy="219.55" rx="0.90" ry="2.20" fill="#0a0a0a"/>
<ellipse cx="163.5" cy="219.25" rx="0.90" ry="3.40" fill="#0a0a0a"/>
<ellipse cx="166" cy="219.0" rx="0.60" ry="4.00" fill="#0a0a0a"/>
<line x1="39.6" y1="215.3" x2="39.6" y2="222.8" stroke="#0a0a0a" stroke-width="1.1"/>
<line x1="48" y1="215.3" x2="48" y2="222.8" stroke="#0a0a0a" stroke-width="1.1"/>
<line x1="57" y1="215.3" x2="57" y2="222.8" stroke="#0a0a0a" stroke-width="1.1"/>
<line x1="81.3" y1="215.3" x2="81.3" y2="222.8" stroke="#0a0a0a" stroke-width="1.1"/>
<line x1="107.4" y1="215.3" x2="107.4" y2="222.8" stroke="#0a0a0a" stroke-width="1.1"/>
<line x1="141.5" y1="215.3" x2="141.5" y2="222.8" stroke="#0a0a0a" stroke-width="1.1"/>
<line x1="223.7" y1="215.3" x2="223.7" y2="222.8" stroke="#0a0a0a" stroke-width="1.1"/>
<line x1="253.7" y1="215.3" x2="253.7" y2="222.8" stroke="#0a0a0a" stroke-width="1.1"/>
<line x1="267.2" y1="215.3" x2="267.2" y2="222.8" stroke="#0a0a0a" stroke-width="1.1"/>
<line x1="341.7" y1="215.3" x2="341.7" y2="222.8" stroke="#0a0a0a" stroke-width="1.1"/>
<line x1="357" y1="215.3" x2="357" y2="222.8" stroke="#0a0a0a" stroke-width="1.1"/>
<line x1="373.7" y1="215.3" x2="373.7" y2="222.8" stroke="#0a0a0a" stroke-width="1.1"/>
<line x1="388.5" y1="215.3" x2="388.5" y2="222.8" stroke="#0a0a0a" stroke-width="1.1"/>
<line x1="419.4" y1="215.3" x2="419.4" y2="222.8" stroke="#0a0a0a" stroke-width="1.1"/>
<line x1="589.4" y1="215.3" x2="589.4" y2="222.8" stroke="#0a0a0a" stroke-width="1.1"/>
<rect x="151" y="26" width="16" height="9" fill="#fff"/>
<path d="M153,30.8 C154.5,28.2 157.5,28.3 159.4,29.8 C161.3,31.3 164.3,31.4 165.8,28.8 M153,34.4 C154.5,31.8 157.5,31.9 159.4,33.4 C161.3,34.9 164.3,35 165.8,32.4" fill="none" stroke="#222" stroke-width="1.4"/>
<line x1="16.0" y1="289.1" x2="683.38" y2="289.1" stroke="#333" stroke-width="1.1"/>
<line x1="16.00" y1="289.1" x2="16.00" y2="293.40000000000003" stroke="#333" stroke-width="1"/>
<line x1="25.53" y1="289.1" x2="25.53" y2="291.5" stroke="#333" stroke-width="1"/>
<line x1="35.07" y1="289.1" x2="35.07" y2="291.5" stroke="#333" stroke-width="1"/>
<line x1="44.60" y1="289.1" x2="44.60" y2="291.5" stroke="#333" stroke-width="1"/>
<line x1="54.14" y1="289.1" x2="54.14" y2="291.5" stroke="#333" stroke-width="1"/>
<line x1="63.67" y1="289.1" x2="63.67" y2="293.40000000000003" stroke="#333" stroke-width="1"/>
<line x1="73.20" y1="289.1" x2="73.20" y2="291.5" stroke="#333" stroke-width="1"/>
<line x1="82.74" y1="289.1" x2="82.74" y2="291.5" stroke="#333" stroke-width="1"/>
<line x1="92.27" y1="289.1" x2="92.27" y2="291.5" stroke="#333" stroke-width="1"/>
<line x1="101.81" y1="289.1" x2="101.81" y2="291.5" stroke="#333" stroke-width="1"/>
<line x1="111.34" y1="289.1" x2="111.34" y2="293.40000000000003" stroke="#333" stroke-width="1"/>
<line x1="120.87" y1="289.1" x2="120.87" y2="291.5" stroke="#333" stroke-width="1"/>
<line x1="130.41" y1="289.1" x2="130.41" y2="291.5" stroke="#333" stroke-width="1"/>
<line x1="139.94" y1="289.1" x2="139.94" y2="291.5" stroke="#333" stroke-width="1"/>
<line x1="149.48" y1="289.1" x2="149.48" y2="291.5" stroke="#333" stroke-width="1"/>
<line x1="159.01" y1="289.1" x2="159.01" y2="293.40000000000003" stroke="#333" stroke-width="1"/>
<line x1="168.54" y1="289.1" x2="168.54" y2="291.5" stroke="#333" stroke-width="1"/>
<line x1="178.08" y1="289.1" x2="178.08" y2="291.5" stroke="#333" stroke-width="1"/>
<line x1="187.61" y1="289.1" x2="187.61" y2="291.5" stroke="#333" stroke-width="1"/>
<line x1="197.15" y1="289.1" x2="197.15" y2="291.5" stroke="#333" stroke-width="1"/>
<line x1="206.68" y1="289.1" x2="206.68" y2="293.40000000000003" stroke="#333" stroke-width="1"/>
<line x1="216.21" y1="289.1" x2="216.21" y2="291.5" stroke="#333" stroke-width="1"/>
<line x1="225.75" y1="289.1" x2="225.75" y2="291.5" stroke="#333" stroke-width="1"/>
<line x1="235.28" y1="289.1" x2="235.28" y2="291.5" stroke="#333" stroke-width="1"/>
<line x1="244.82" y1="289.1" x2="244.82" y2="291.5" stroke="#333" stroke-width="1"/>
<line x1="254.35" y1="289.1" x2="254.35" y2="293.40000000000003" stroke="#333" stroke-width="1"/>
<line x1="263.88" y1="289.1" x2="263.88" y2="291.5" stroke="#333" stroke-width="1"/>
<line x1="273.42" y1="289.1" x2="273.42" y2="291.5" stroke="#333" stroke-width="1"/>
<line x1="282.95" y1="289.1" x2="282.95" y2="291.5" stroke="#333" stroke-width="1"/>
<line x1="292.49" y1="289.1" x2="292.49" y2="291.5" stroke="#333" stroke-width="1"/>
<line x1="302.02" y1="289.1" x2="302.02" y2="293.40000000000003" stroke="#333" stroke-width="1"/>
<line x1="311.55" y1="289.1" x2="311.55" y2="291.5" stroke="#333" stroke-width="1"/>
<line x1="321.09" y1="289.1" x2="321.09" y2="291.5" stroke="#333" stroke-width="1"/>
<line x1="330.62" y1="289.1" x2="330.62" y2="291.5" stroke="#333" stroke-width="1"/>
<line x1="340.16" y1="289.1" x2="340.16" y2="291.5" stroke="#333" stroke-width="1"/>
<line x1="349.69" y1="289.1" x2="349.69" y2="293.40000000000003" stroke="#333" stroke-width="1"/>
<line x1="359.22" y1="289.1" x2="359.22" y2="291.5" stroke="#333" stroke-width="1"/>
<line x1="368.76" y1="289.1" x2="368.76" y2="291.5" stroke="#333" stroke-width="1"/>
<line x1="378.29" y1="289.1" x2="378.29" y2="291.5" stroke="#333" stroke-width="1"/>
<line x1="387.83" y1="289.1" x2="387.83" y2="291.5" stroke="#333" stroke-width="1"/>
<line x1="397.36" y1="289.1" x2="397.36" y2="293.40000000000003" stroke="#333" stroke-width="1"/>
<line x1="406.89" y1="289.1" x2="406.89" y2="291.5" stroke="#333" stroke-width="1"/>
<line x1="416.43" y1="289.1" x2="416.43" y2="291.5" stroke="#333" stroke-width="1"/>
<line x1="425.96" y1="289.1" x2="425.96" y2="291.5" stroke="#333" stroke-width="1"/>
<line x1="435.50" y1="289.1" x2="435.50" y2="291.5" stroke="#333" stroke-width="1"/>
<line x1="445.03" y1="289.1" x2="445.03" y2="293.40000000000003" stroke="#333" stroke-width="1"/>
<line x1="454.56" y1="289.1" x2="454.56" y2="291.5" stroke="#333" stroke-width="1"/>
<line x1="464.10" y1="289.1" x2="464.10" y2="291.5" stroke="#333" stroke-width="1"/>
<line x1="473.63" y1="289.1" x2="473.63" y2="291.5" stroke="#333" stroke-width="1"/>
<line x1="483.17" y1="289.1" x2="483.17" y2="291.5" stroke="#333" stroke-width="1"/>
<line x1="492.70" y1="289.1" x2="492.70" y2="293.40000000000003" stroke="#333" stroke-width="1"/>
<line x1="502.23" y1="289.1" x2="502.23" y2="291.5" stroke="#333" stroke-width="1"/>
<line x1="511.77" y1="289.1" x2="511.77" y2="291.5" stroke="#333" stroke-width="1"/>
<line x1="521.30" y1="289.1" x2="521.30" y2="291.5" stroke="#333" stroke-width="1"/>
<line x1="530.84" y1="289.1" x2="530.84" y2="291.5" stroke="#333" stroke-width="1"/>
<line x1="540.37" y1="289.1" x2="540.37" y2="293.40000000000003" stroke="#333" stroke-width="1"/>
<line x1="549.90" y1="289.1" x2="549.90" y2="291.5" stroke="#333" stroke-width="1"/>
<line x1="559.44" y1="289.1" x2="559.44" y2="291.5" stroke="#333" stroke-width="1"/>
<line x1="568.97" y1="289.1" x2="568.97" y2="291.5" stroke="#333" stroke-width="1"/>
<line x1="578.51" y1="289.1" x2="578.51" y2="291.5" stroke="#333" stroke-width="1"/>
<line x1="588.04" y1="289.1" x2="588.04" y2="293.40000000000003" stroke="#333" stroke-width="1"/>
<line x1="597.57" y1="289.1" x2="597.57" y2="291.5" stroke="#333" stroke-width="1"/>
<line x1="607.11" y1="289.1" x2="607.11" y2="291.5" stroke="#333" stroke-width="1"/>
<line x1="616.64" y1="289.1" x2="616.64" y2="291.5" stroke="#333" stroke-width="1"/>
<line x1="626.18" y1="289.1" x2="626.18" y2="291.5" stroke="#333" stroke-width="1"/>
<line x1="635.71" y1="289.1" x2="635.71" y2="293.40000000000003" stroke="#333" stroke-width="1"/>
<line x1="645.24" y1="289.1" x2="645.24" y2="291.5" stroke="#333" stroke-width="1"/>
<line x1="654.78" y1="289.1" x2="654.78" y2="291.5" stroke="#333" stroke-width="1"/>
<line x1="664.31" y1="289.1" x2="664.31" y2="291.5" stroke="#333" stroke-width="1"/>
<line x1="673.85" y1="289.1" x2="673.85" y2="291.5" stroke="#333" stroke-width="1"/>
<line x1="683.38" y1="289.1" x2="683.38" y2="293.40000000000003" stroke="#333" stroke-width="1"/>
<text x="16.00" y="304.3" font-family="'Liberation Sans', sans-serif" font-size="9.4" fill="#1a1a1a" text-anchor="middle">101600</text>
<text x="63.67" y="304.3" font-family="'Liberation Sans', sans-serif" font-size="9.4" fill="#1a1a1a" text-anchor="middle">101700</text>
<text x="111.34" y="304.3" font-family="'Liberation Sans', sans-serif" font-size="9.4" fill="#1a1a1a" text-anchor="middle">101800</text>
<text x="159.01" y="304.3" font-family="'Liberation Sans', sans-serif" font-size="9.4" fill="#1a1a1a" text-anchor="middle">101900</text>
<text x="206.68" y="304.3" font-family="'Liberation Sans', sans-serif" font-size="9.4" fill="#1a1a1a" text-anchor="middle">102000</text>
<text x="254.35" y="304.3" font-family="'Liberation Sans', sans-serif" font-size="9.4" fill="#1a1a1a" text-anchor="middle">102100</text>
<text x="302.02" y="304.3" font-family="'Liberation Sans', sans-serif" font-size="9.4" fill="#1a1a1a" text-anchor="middle">102200</text>
<text x="349.69" y="304.3" font-family="'Liberation Sans', sans-serif" font-size="9.4" fill="#1a1a1a" text-anchor="middle">102300</text>
<text x="397.36" y="304.3" font-family="'Liberation Sans', sans-serif" font-size="9.4" fill="#1a1a1a" text-anchor="middle">102400</text>
<text x="445.03" y="304.3" font-family="'Liberation Sans', sans-serif" font-size="9.4" fill="#1a1a1a" text-anchor="middle">102500</text>
<text x="492.70" y="304.3" font-family="'Liberation Sans', sans-serif" font-size="9.4" fill="#1a1a1a" text-anchor="middle">102600</text>
<text x="540.37" y="304.3" font-family="'Liberation Sans', sans-serif" font-size="9.4" fill="#1a1a1a" text-anchor="middle">102700</text>
<text x="588.04" y="304.3" font-family="'Liberation Sans', sans-serif" font-size="9.4" fill="#1a1a1a" text-anchor="middle">102800</text>
<text x="635.71" y="304.3" font-family="'Liberation Sans', sans-serif" font-size="9.4" fill="#1a1a1a" text-anchor="middle">102900</text>
<text x="683.38" y="304.3" font-family="'Liberation Sans', sans-serif" font-size="9.4" fill="#1a1a1a" text-anchor="middle">103000</text>
<text x="339.3" y="321.3" font-family="'Liberation Sans', sans-serif" font-size="9.85" fill="#222" text-anchor="middle">Frequency (MHz)</text>
<text x="159" y="7.4" font-family="'Liberation Sans', sans-serif" font-size="9" fill="#111" text-anchor="middle">G.S.</text>
<text x="129.6" y="20.2" font-family="'Liberation Sans', sans-serif" font-size="9" fill="#111">11<tspan font-size="6.5" dx="2.4" dy="2.5">1 10</tspan></text>
<text x="168.2" y="20.2" font-family="'Liberation Sans', sans-serif" font-size="9" fill="#111">10<tspan font-size="6.5" dx="2.8" dy="2.5">1 9</tspan></text>
<line x1="158" y1="17.6" x2="164.8" y2="17.6" stroke="#777" stroke-width="1.1"/>
<path d="M156.2,17.6 L159.2,15.5 L158.4,17.6 L159.2,19.9 Z" fill="#222"/>
<text x="26.8" y="183.5" font-family="'Liberation Sans', sans-serif" font-size="7.3" fill="#3a3a3a">G.S.</text>
<text x="109.8" y="183.5" font-family="'Liberation Sans', sans-serif" font-size="7.3" fill="#3a3a3a">G.S.</text>
<text x="270.8" y="36.9" font-family="'Liberation Sans', sans-serif" font-size="10.2" font-weight="bold" fill="#e3051b" text-anchor="start"><tspan font-style="italic">v</tspan><tspan font-size="8" dy="3.0">11</tspan><tspan dy="-3.0">​</tspan> = 1</text>
<text x="396.7" y="144.7" font-family="'Liberation Sans', sans-serif" font-size="10.2" font-weight="bold" fill="#e3051b" text-anchor="start"><tspan font-style="italic">v</tspan><tspan font-size="8" dy="3.0">11</tspan><tspan dy="-3.0">​</tspan> = 2</text>
<text x="515.8" y="187.7" font-family="'Liberation Sans', sans-serif" font-size="10.2" font-weight="bold" fill="#e3051b" text-anchor="start"><tspan font-style="italic">v</tspan><tspan font-size="8" dy="3.0">11</tspan><tspan dy="-3.0">​</tspan> = 3</text>
<text x="633.9" y="196.7" font-family="'Liberation Sans', sans-serif" font-size="10.2" font-weight="bold" fill="#e3051b" text-anchor="start"><tspan font-style="italic">v</tspan><tspan font-size="8" dy="3.0">11</tspan><tspan dy="-3.0">​</tspan> = 4</text>
<text x="217.5" y="73.3" font-family="'Liberation Sans', sans-serif" font-size="10.2" font-weight="bold" fill="#2a2a86" text-anchor="start"><tspan font-style="italic">v</tspan><tspan font-size="8" dy="3.0">18</tspan><tspan dy="-3.0">​</tspan> = 1</text>
<text x="291.4" y="179.3" font-family="'Liberation Sans', sans-serif" font-size="10.2" font-weight="bold" fill="#2a2a86" text-anchor="start"><tspan font-style="italic">v</tspan><tspan font-size="8" dy="3.0">18</tspan><tspan dy="-3.0">​</tspan> = 2</text>
<text x="330.7" y="89.1" font-family="'Liberation Sans', sans-serif" font-size="10.2" font-weight="bold" fill="#2a2a86" text-anchor="start">(<tspan font-style="italic">v</tspan><tspan font-size="8" dy="3.0">11</tspan><tspan dy="-3.0">​</tspan> = 1, <tspan font-style="italic">v</tspan><tspan font-size="8" dy="3.0">18</tspan><tspan dy="-3.0">​</tspan> = 1)</text>
<text x="443.0" y="165.6" font-family="'Liberation Sans', sans-serif" font-size="10.2" font-weight="bold" fill="#2a2a86" text-anchor="start">(<tspan font-style="italic">v</tspan><tspan font-size="8" dy="3.0">11</tspan><tspan dy="-3.0">​</tspan> = 2, <tspan font-style="italic">v</tspan><tspan font-size="8" dy="3.0">18</tspan><tspan dy="-3.0">​</tspan> = 1)</text>
<text x="560.4" y="183.3" font-family="'Liberation Sans', sans-serif" font-size="10.2" font-weight="bold" fill="#2a2a86" text-anchor="start">(<tspan font-style="italic">v</tspan><tspan font-size="8" dy="3.0">11</tspan><tspan dy="-3.0">​</tspan> = 3, <tspan font-style="italic">v</tspan><tspan font-size="8" dy="3.0">18</tspan><tspan dy="-3.0">​</tspan> = 1)</text>
<text x="184.6" y="146.2" font-family="'Liberation Sans', sans-serif" font-size="10.2" font-weight="bold" fill="#ee7d11" text-anchor="start"><tspan font-style="italic">v</tspan><tspan font-size="8" dy="3.0">17</tspan><tspan dy="-3.0">​</tspan> = 1</text>
<text x="237.3" y="197.4" font-family="'Liberation Sans', sans-serif" font-size="10.2" font-weight="bold" fill="#ee7d11" text-anchor="start"><tspan font-style="italic">v</tspan><tspan font-size="8" dy="3.0">17</tspan><tspan dy="-3.0">​</tspan> = 2</text>
<text x="293.4" y="109.3" font-family="'Liberation Sans', sans-serif" font-size="10.2" font-weight="bold" fill="#ee7d11" text-anchor="start">(<tspan font-style="italic">v</tspan><tspan font-size="8" dy="3.0">11</tspan><tspan dy="-3.0">​</tspan> = 1, <tspan font-style="italic">v</tspan><tspan font-size="8" dy="3.0">17</tspan><tspan dy="-3.0">​</tspan> = 1)</text>
<text x="431.0" y="262.5" font-family="'Liberation Sans', sans-serif" font-size="10.2" font-weight="bold" fill="#ee7d11" text-anchor="start">(<tspan font-style="italic">v</tspan><tspan font-size="8" dy="3.0">11</tspan><tspan dy="-3.0">​</tspan> = 2, <tspan font-style="italic">v</tspan><tspan font-size="8" dy="3.0">17</tspan><tspan dy="-3.0">​</tspan> = 1)</text>
<text x="57.5" y="177.3" font-family="'Liberation Sans', sans-serif" font-size="10.2" font-weight="bold" fill="#17913f" text-anchor="start"><tspan font-style="italic">v</tspan><tspan font-size="8" dy="3.0">10</tspan><tspan dy="-3.0">​</tspan> = 1</text>
<text x="67.4" y="141.3" font-family="'Liberation Sans', sans-serif" font-size="10.2" font-weight="bold" fill="#17913f" text-anchor="start">(<tspan font-style="italic">v</tspan><tspan font-size="8" dy="3.0">18</tspan><tspan dy="-3.0">​</tspan> = 1, <tspan font-style="italic">v</tspan><tspan font-size="8" dy="3.0">10</tspan><tspan dy="-3.0">​</tspan> = 1)</text>
<text x="69.8" y="272.5" font-family="'Liberation Sans', sans-serif" font-size="10.2" font-weight="bold" fill="#17913f" text-anchor="start">(<tspan font-style="italic">v</tspan><tspan font-size="8" dy="3.0">11</tspan><tspan dy="-3.0">​</tspan> = 1, <tspan font-style="italic">v</tspan><tspan font-size="8" dy="3.0">10</tspan><tspan dy="-3.0">​</tspan> = 1)</text>
<text x="296.3" y="272.5" font-family="'Liberation Sans', sans-serif" font-size="10.2" font-weight="bold" fill="#17913f" text-anchor="start">(<tspan font-style="italic">v</tspan><tspan font-size="8" dy="3.0">18</tspan><tspan dy="-3.0">​</tspan> = 1, <tspan font-style="italic">v</tspan><tspan font-size="8" dy="3.0">17</tspan><tspan dy="-3.0">​</tspan> = 1)</text>
<text x="49.6" y="191.7" font-family="'Liberation Sans', sans-serif" font-size="10" font-weight="bold" font-style="italic" fill="#2e2e2e">v<tspan font-size="8.8" dy="3.4">c</tspan></text>
<text x="42.0" y="241.7" font-family="'Liberation Sans', sans-serif" font-size="10" font-weight="bold" font-style="italic" fill="#2e2e2e">v<tspan font-size="8.8" dy="3.4">l</tspan></text>
<text x="109.8" y="242.0" font-family="'Liberation Sans', sans-serif" font-size="10" font-weight="bold" font-style="italic" fill="#2e2e2e">v<tspan font-size="8.8" dy="3.4">j</tspan></text>
<text x="248.0" y="256.8" font-family="'Liberation Sans', sans-serif" font-size="10" font-weight="bold" font-style="italic" fill="#2e2e2e">v<tspan font-size="8.8" dy="3.4">h</tspan></text>
<text x="261.7" y="169.9" font-family="'Liberation Sans', sans-serif" font-size="10" font-weight="bold" font-style="italic" fill="#2e2e2e">v<tspan font-size="8.8" dy="3.4">f</tspan></text>
<text x="295.1" y="195.1" font-family="'Liberation Sans', sans-serif" font-size="10" font-weight="bold" font-style="italic" fill="#2e2e2e">v<tspan font-size="8.8" dy="3.4">g</tspan></text>
<text x="332.6" y="192.0" font-family="'Liberation Sans', sans-serif" font-size="10" font-weight="bold" font-style="italic" fill="#2e2e2e">v<tspan font-size="8.8" dy="3.4">k</tspan></text>
<text x="357.6" y="189.5" font-family="'Liberation Sans', sans-serif" font-size="10" font-weight="bold" font-style="italic" fill="#2e2e2e">v<tspan font-size="8.8" dy="3.4">a</tspan></text>
<text x="367.6" y="189.5" font-family="'Liberation Sans', sans-serif" font-size="10" font-weight="bold" font-style="italic" fill="#2e2e2e">v<tspan font-size="8.8" dy="3.4">b</tspan></text>
<text x="385.0" y="195.0" font-family="'Liberation Sans', sans-serif" font-size="10" font-weight="bold" font-style="italic" fill="#2e2e2e">v<tspan font-size="8.8" dy="3.4">e</tspan></text>
<text x="372.6" y="242.9" font-family="'Liberation Sans', sans-serif" font-size="10" font-weight="bold" font-style="italic" fill="#2e2e2e">v<tspan font-size="8.8" dy="3.4">d</tspan></text>
<line x1="383.6" y1="98.5" x2="351.72" y2="163.02" stroke="#4a4a4a" stroke-width="1.0" stroke-dasharray="1.15 0.85"/>
<polygon points="349.50,167.50 349.56,160.84 351.76,162.93 354.76,163.41" fill="#4a4a4a"/>
<line x1="348.9" y1="117" x2="328.21" y2="177.87" stroke="#4a4a4a" stroke-width="1.0" stroke-dasharray="1.15 0.85"/>
<polygon points="326.60,182.60 325.79,175.99 328.24,177.77 331.28,177.85" fill="#4a4a4a"/>
<line x1="122.6" y1="149.8" x2="139.27" y2="205.71" stroke="#4a4a4a" stroke-width="1.0" stroke-dasharray="1.15 0.85"/>
<polygon points="140.70,210.50 136.21,205.58 139.24,205.61 141.76,203.92" fill="#4a4a4a"/>
<line x1="57.2" y1="198.5" x2="64.37" y2="206.98" stroke="#4a4a4a" stroke-width="1.0" stroke-dasharray="1.15 0.85"/>
<polygon points="67.60,210.80 61.51,208.09 64.31,206.91 65.94,204.35" fill="#4a4a4a"/>
<line x1="269" y1="176.1" x2="283.85" y2="207.29" stroke="#4a4a4a" stroke-width="1.0" stroke-dasharray="1.15 0.85"/>
<polygon points="286.00,211.80 280.80,207.63 283.81,207.20 286.04,205.14" fill="#4a4a4a"/>
<line x1="304.7" y1="200.7" x2="311.42" y2="207.61" stroke="#4a4a4a" stroke-width="1.0" stroke-dasharray="1.15 0.85"/>
<polygon points="314.90,211.20 308.64,208.92 311.35,207.54 312.80,204.88" fill="#4a4a4a"/>
<line x1="338" y1="199.4" x2="344.01" y2="208.79" stroke="#4a4a4a" stroke-width="1.0" stroke-dasharray="1.15 0.85"/>
<polygon points="346.70,213.00 341.02,209.51 343.95,208.70 345.91,206.38" fill="#4a4a4a"/>
<line x1="382.2" y1="197.3" x2="375.61" y2="205.59" stroke="#4a4a4a" stroke-width="1.0" stroke-dasharray="1.15 0.85"/>
<polygon points="372.50,209.50 373.96,203.00 375.67,205.51 378.50,206.61" fill="#4a4a4a"/>
<line x1="478.6" y1="173" x2="463.71" y2="196.10" stroke="#4a4a4a" stroke-width="1.0" stroke-dasharray="1.15 0.85"/>
<polygon points="461.00,200.30 461.81,193.69 463.76,196.01 466.69,196.83" fill="#4a4a4a"/>
<line x1="581.7" y1="193.2" x2="573.19" y2="204.59" stroke="#4a4a4a" stroke-width="1.0" stroke-dasharray="1.15 0.85"/>
<polygon points="570.20,208.60 571.47,202.06 573.25,204.51 576.11,205.53" fill="#4a4a4a"/>
<line x1="121.2" y1="261.2" x2="186.27" y2="227.31" stroke="#4a4a4a" stroke-width="1.0" stroke-dasharray="1.15 0.85"/>
<polygon points="190.70,225.00 186.72,230.34 186.18,227.36 184.04,225.20" fill="#4a4a4a"/>
<line x1="250.3" y1="247.2" x2="240.84" y2="228.37" stroke="#4a4a4a" stroke-width="1.0" stroke-dasharray="1.15 0.85"/>
<polygon points="238.60,223.90 243.88,227.96 240.89,228.46 238.70,230.56" fill="#4a4a4a"/>
<line x1="307.4" y1="258" x2="293.51" y2="232.68" stroke="#4a4a4a" stroke-width="1.0" stroke-dasharray="1.15 0.85"/>
<polygon points="291.10,228.30 296.53,232.16 293.55,232.77 291.44,234.96" fill="#4a4a4a"/>
<line x1="461.7" y1="248" x2="448.72" y2="233.34" stroke="#4a4a4a" stroke-width="1.0" stroke-dasharray="1.15 0.85"/>
<polygon points="445.40,229.60 451.55,232.17 448.78,233.42 447.21,236.01" fill="#4a4a4a"/>
<path d="M55,241.4 L63,241.2 C67,240.8 69,237 70.4,231.4" fill="none" stroke="#4a4a4a" stroke-width="1.0" stroke-dasharray="1.15 0.85"/>
<polygon points="72.40,226.40 73.16,233.02 70.72,231.21 67.68,231.11" fill="#4a4a4a"/>
<path d="M122.5,241.6 L130.5,241.2 C134.5,240.8 136.5,237 137.8,231.4" fill="none" stroke="#4a4a4a" stroke-width="1.0" stroke-dasharray="1.15 0.85"/>
<polygon points="139.80,226.40 140.56,233.02 138.12,231.21 135.08,231.11" fill="#4a4a4a"/>
<path d="M369.9,241 L358.5,241.6 C353.5,241.5 353.5,234 358.3,230.3" fill="none" stroke="#4a4a4a" stroke-width="1.0" stroke-dasharray="1.15 0.85"/>
<polygon points="361.70,225.60 360.42,232.14 358.64,229.68 355.78,228.66" fill="#4a4a4a"/>
<ellipse cx="630.7" cy="113.3" rx="35.6" ry="44" fill="#fff" stroke="#e3051b" stroke-width="2.1" stroke-dasharray="0.01 3.05" stroke-linecap="round"/>
<polyline points="597.3,112.9 599.9,113.8 601.8,112.5 603.8,113.4 605.7,112.9 608.6,114.4 611.5,113.8 613.5,111.5 614.8,113.8 616.8,115.2 618.7,112.9 620.3,113.4 622.2,115.8 624.2,120.6 625.9,129.2 627.7,110.9 629,81.7 630,77.6 631,81.7 632.4,110.9 633.9,126.5 635.5,122.6 636.8,115.8 638.8,113.8 640.1,117.7 642.1,110.9 644,113.8 646,115.8 647.9,114.8 650.4,106 652.4,109.9 654.3,115.8 656.3,113.8 657.6,117.7 659.2,112.9 661.1,115.2 663.1,113.2" fill="none" stroke="#333" stroke-width="1" stroke-linejoin="round"/>
<line x1="603" y1="140.6" x2="657.4" y2="140.6" stroke="#555" stroke-width="1"/>
<line x1="605.8" y1="140.6" x2="605.8" y2="142" stroke="#555" stroke-width="0.8"/>
<line x1="614.5" y1="140.6" x2="614.5" y2="142" stroke="#555" stroke-width="0.8"/>
<line x1="623.4" y1="140.6" x2="623.4" y2="142" stroke="#555" stroke-width="0.8"/>
<line x1="641.4" y1="140.6" x2="641.4" y2="142" stroke="#555" stroke-width="0.8"/>
<line x1="650.6" y1="140.6" x2="650.6" y2="142" stroke="#555" stroke-width="0.8"/>
<line x1="632.6" y1="140.6" x2="632.6" y2="143.7" stroke="#555" stroke-width="0.8"/>
<text x="633" y="149.8" font-family="'Liberation Sans', sans-serif" font-size="4.8" fill="#444" text-anchor="middle">102930</text>
<ellipse cx="650.4" cy="218.8" rx="11.1" ry="14.2" fill="none" stroke="#e3051b" stroke-width="2" stroke-dasharray="0.01 2.75" stroke-linecap="round"/>
<path d="M665,205.2 Q695.5,180 667.2,155.2" fill="none" stroke="#e3051b" stroke-width="1.3" stroke-dasharray="0.01 2" stroke-linecap="round"/>
<polygon points="663.80,151.00 669.50,153.36 666.85,154.57 665.25,157.00" fill="#e3051b"/></svg></body></html>
